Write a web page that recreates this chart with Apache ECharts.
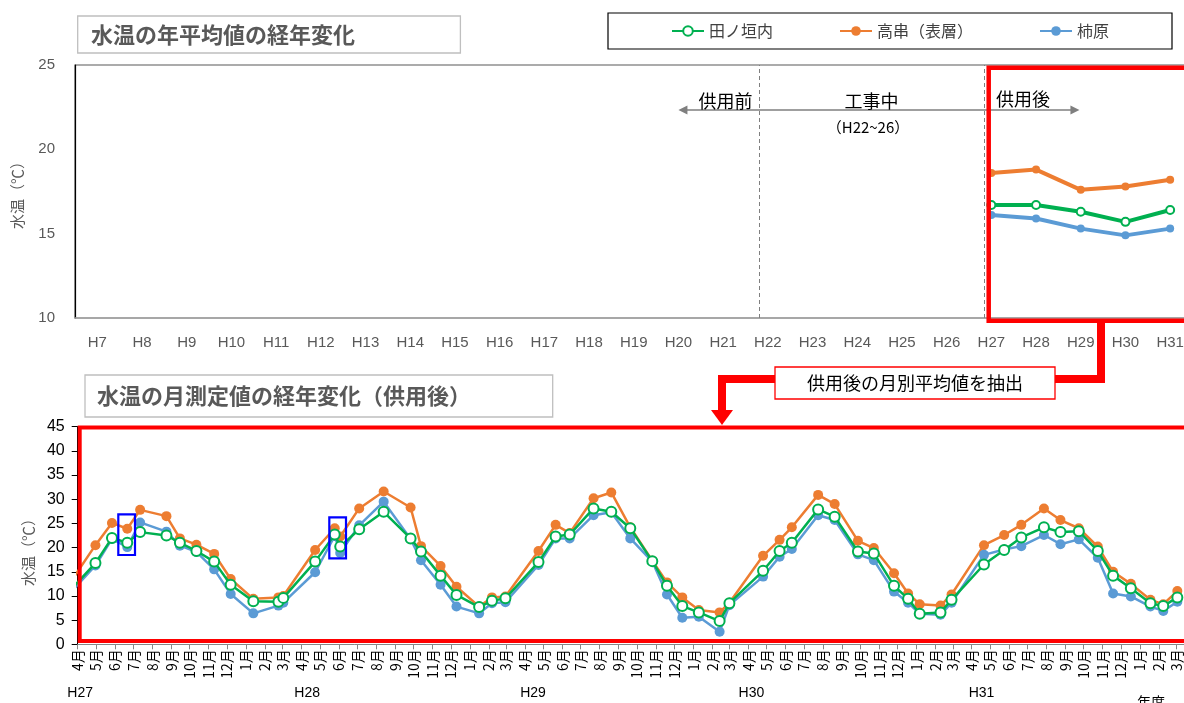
<!DOCTYPE html>
<html>
<head>
<meta charset="utf-8">
<title>水温の経年変化</title>
<script src="https://cdn.jsdelivr.net/npm/echarts@6/dist/echarts.min.js"></script>
<style>
  html, body { margin: 0; padding: 0; background: #fff; }
  #chart { width: 1184px; height: 703px; }
</style>
</head>
<body>
<div id="chart"></div>
<script>
// --- data ---
const seriesNames = ['田ノ垣内', '高串（表層）', '柿原'];
const seriesColors = ['#00B050', '#ED7D31', '#5B9BD5'];

// 年平均（上段）
const yearCats = ['H7', 'H8', 'H9', 'H10', 'H11', 'H12', 'H13', 'H14', 'H15', 'H16', 'H17', 'H18', 'H19',
  'H20', 'H21', 'H22', 'H23', 'H24', 'H25', 'H26', 'H27', 'H28', 'H29', 'H30', 'H31'];
const annualYears = ['H27', 'H28', 'H29', 'H30', 'H31'];
const annualTanokaito = [16.7, 16.7, 16.3, 15.7, 16.4];
const annualTakakushi = [18.6, 18.8, 17.6, 17.8, 18.2];
const annualKakihara = [16.1, 15.9, 15.3, 14.9, 15.3];

// 月測定値（下段）
const sampleDates = ['2015-03-05',
  '2015-04-30', '2015-05-27', '2015-06-21', '2015-07-12', '2015-08-24', '2015-09-15', '2015-10-12', '2015-11-10', '2015-12-07', '2016-01-13', '2016-02-23', '2016-03-02',
  '2016-04-23', '2016-05-25', '2016-06-03', '2016-07-04', '2016-08-13', '2016-09-26', '2016-10-13', '2016-11-14', '2016-12-10', '2017-01-16', '2017-02-06', '2017-02-28',
  '2017-04-23', '2017-05-21', '2017-06-13', '2017-07-22', '2017-08-20', '2017-09-20', '2017-10-26', '2017-11-19', '2017-12-14', '2018-01-10', '2018-02-13', '2018-03-01',
  '2018-04-25', '2018-05-22', '2018-06-11', '2018-07-24', '2018-08-20', '2018-09-27', '2018-10-23', '2018-11-25', '2018-12-18', '2019-01-06', '2019-02-09', '2019-02-27',
  '2019-04-21', '2019-05-24', '2019-06-21', '2019-07-28', '2019-08-24', '2019-09-23', '2019-10-24', '2019-11-18', '2019-12-17', '2020-01-18', '2020-02-08', '2020-03-02'];
const monthlyTakakushi = [10.0,
  20.5, 25.1, 23.9, 27.8, 26.5, 21.9, 20.6, 18.7, 13.5, 9.4, 9.7, 10.0,
  19.5, 24.0, 22.3, 28.1, 31.6, 28.3, 20.3, 16.2, 11.9, 7.8, 9.7, 9.9,
  19.3, 24.7, 23.0, 30.2, 31.4, 24.2, 17.3, 12.8, 9.7, 7.1, 6.6, 8.6,
  18.3, 21.6, 24.2, 30.9, 29.0, 21.4, 19.9, 14.7, 10.5, 8.3, 8.0, 10.3,
  20.5, 22.6, 24.7, 28.1, 25.7, 24.0, 20.2, 15.0, 12.5, 9.2, 8.3, 11.0];
const monthlyTanokaito = [9.1,
  16.8, 22.0, 21.0, 23.2, 22.5, 21.0, 19.3, 17.1, 12.3, 8.9, 8.8, 9.6,
  17.1, 22.7, 20.2, 23.8, 27.4, 21.9, 19.2, 14.2, 10.2, 7.7, 9.0, 9.5,
  17.0, 22.3, 22.7, 28.1, 27.4, 24.0, 17.2, 12.1, 7.9, 6.6, 4.8, 8.5,
  15.2, 19.3, 21.0, 27.9, 26.4, 19.2, 18.8, 12.1, 9.4, 6.3, 6.6, 9.2,
  16.5, 19.5, 22.1, 24.2, 23.2, 23.4, 19.3, 14.2, 11.6, 8.5, 7.9, 9.7];
const monthlyKakihara = [8.6,
  16.3, 21.8, 20.1, 25.2, 23.3, 20.4, 19.1, 15.5, 10.4, 6.4, 8.0, 8.6,
  14.9, 22.4, 18.9, 24.6, 29.5, 21.8, 17.4, 12.3, 7.8, 6.4, 8.5, 8.7,
  16.4, 21.9, 21.9, 26.7, 27.3, 21.9, 17.1, 10.3, 5.5, 5.7, 2.6, 8.1,
  14.0, 18.1, 19.7, 26.7, 25.7, 18.6, 17.4, 10.9, 8.6, 6.3, 6.1, 8.6,
  18.5, 19.6, 20.3, 22.6, 20.7, 21.7, 17.9, 10.5, 9.9, 7.8, 6.9, 8.8];

const monthLabels = ['4月', '5月', '6月', '7月', '8月', '9月', '10月', '11月', '12月', '1月', '2月', '3月'];
const yearLabels = ['H27', 'H28', 'H29', 'H30', 'H31', '年度'];
const yearLabelDates = ['2015-04-05', '2016-04-10', '2017-04-14', '2018-04-06', '2019-04-17', '2020-01-19'];

// --- helpers ---
const FONT = "'Liberation Sans', 'Noto Sans CJK JP', sans-serif";
const JP = "'Noto Sans CJK JP', sans-serif";
const toTime = (s) => {
  const p = s.split('-').map(Number);
  return new Date(p[0], p[1] - 1, p[2]).getTime();
};
const axisStart = new Date(2015, 3, 1).getTime();
const axisEnd = new Date(2020, 3, 1).getTime();
let monthTicks = [];
for (let i = 0; i < 60; i++) monthTicks.push(new Date(2015, 3 + i, 1).getTime());
const yearLabelTimes = yearLabelDates.map(toTime);

const annualPairs = (arr) => annualYears.map((y, i) => [yearCats.indexOf(y), arr[i]]);
const monthlyPairs = (arr) => sampleDates.map((d, i) => [toTime(d), arr[i]]);

// 注記位置（上段の値座標）
const dividerPre = 14.81;
const dividerPost = 19.84;
const arrowFrom = 13.1, arrowTo = 21.87, arrowLevel = 22.33;

const myChart = echarts.init(document.getElementById('chart'));

const annualSeries = (name, color, arr, empty, extra) => Object.assign({
  name: name,
  type: 'line',
  xAxisIndex: 0,
  yAxisIndex: 0,
  data: annualPairs(arr),
  symbol: empty ? 'emptyCircle' : 'circle',
  symbolSize: 8,
  lineStyle: { width: 4, color: color },
  itemStyle: { color: color, borderWidth: empty ? 1.5 : 0 },
  emphasis: { disabled: true },
  z: 3,
}, extra || {});

const monthlySeries = (name, color, arr, empty, z) => ({
  name: name,
  type: 'line',
  xAxisIndex: 1,
  yAxisIndex: 1,
  data: monthlyPairs(arr),
  clip: true,
  symbol: empty ? 'emptyCircle' : 'circle',
  symbolSize: 10,
  showAllSymbol: true,
  lineStyle: { width: 2.5, color: color },
  itemStyle: { color: color, borderWidth: empty ? 1.8 : 0 },
  emphasis: { disabled: true },
  z: z,
});

const option = {
  animation: false,
  backgroundColor: '#fff',
  textStyle: { fontFamily: FONT },
  legend: {
    data: seriesNames,
    left: 608,
    top: 13,
    itemGap: 66,
    itemWidth: 32,
    itemHeight: 12,
    padding: [10, 63],
    borderColor: '#000',
    borderWidth: 1.2,
    textStyle: { fontFamily: JP, fontSize: 16, color: '#404040' },
  },
  grid: [
    { left: 75, top: 65, right: -8.5, bottom: 385, outerBoundsMode: 'none', containLabel: false,
      show: true, borderColor: '#595959', borderWidth: 1.2 },
    { left: 77.7, top: 426.7, right: -11.7, bottom: 58.7, outerBoundsMode: 'none', containLabel: false },
  ],
  xAxis: [
    {
      type: 'value',
      gridIndex: 0,
      min: -0.5,
      max: yearCats.length - 0.5,
      axisLine: { onZero: false, lineStyle: { color: '#a6a6a6', width: 1.5 } },
      axisTick: { show: false },
      splitLine: { show: false },
      axisLabel: {
        customValues: yearCats.map((c, i) => i),
        formatter: (v) => yearCats[Math.round(v)],
        color: '#595959',
        fontSize: 15,
        margin: 17,
      },
    },
    {
      type: 'value',
      gridIndex: 1,
      min: axisStart,
      max: axisEnd,
      axisLine: { onZero: false, lineStyle: { color: '#868686', width: 1 } },
      axisTick: { customValues: monthTicks, length: 5, lineStyle: { color: '#868686' } },
      splitLine: { show: false },
      axisLabel: {
        customValues: monthTicks,
        rotate: 90,
        margin: 5,
        color: '#000',
        fontSize: 14,
        fontFamily: JP,
        formatter: (v) => monthLabels[(new Date(v).getMonth() + 9) % 12],
      },
    },
    {
      type: 'value',
      gridIndex: 1,
      min: axisStart,
      max: axisEnd,
      position: 'bottom',
      offset: 42,
      axisLine: { show: false, onZero: false },
      axisTick: { show: false },
      splitLine: { show: false },
      axisLabel: {
        customValues: yearLabelTimes,
        margin: 0,
        color: '#000',
        fontSize: 14,
        formatter: (v) => {
          const k = yearLabelTimes.indexOf(v);
          const t = yearLabels[k] || '';
          return t === '年度' ? '{lo|' + t + '}' : t;
        },
        rich: { lo: { fontFamily: JP, fontSize: 14, color: '#000', padding: [8, 0, 0, 0] } },
      },
    },
  ],
  yAxis: [
    {
      type: 'value',
      gridIndex: 0,
      min: 10,
      max: 25,
      interval: 5,
      axisLine: { show: true, onZero: false, lineStyle: { color: '#000', width: 1.2 } },
      axisTick: { show: false },
      splitLine: { show: false },
      axisLabel: { color: '#595959', fontSize: 15, margin: 20 },
      name: '水温（℃）',
      nameLocation: 'middle',
      nameGap: 50,
      nameTextStyle: { color: '#595959', fontSize: 15, fontFamily: JP },
    },
    {
      type: 'value',
      gridIndex: 1,
      min: 0,
      max: 45,
      interval: 5,
      axisLine: { show: true, onZero: false, lineStyle: { color: '#000', width: 1 } },
      axisTick: { show: true, length: 6, lineStyle: { color: '#000' } },
      splitLine: { show: false },
      axisLabel: { color: '#000', fontSize: 16, margin: 13 },
      name: '水温（℃）',
      nameLocation: 'middle',
      nameGap: 40,
      nameTextStyle: { color: '#595959', fontSize: 15, fontFamily: JP, padding: [0, 26, 0, 0] },
    },
  ],
  series: [
    annualSeries(seriesNames[1], seriesColors[1], annualTakakushi, false, {
      markLine: {
        silent: true,
        symbol: 'none',
        label: { show: false },
        lineStyle: { type: [4, 3], color: '#7f7f7f', width: 1 },
        data: [{ xAxis: dividerPre }, { xAxis: dividerPost }],
      },
    }),
    annualSeries(seriesNames[2], seriesColors[2], annualKakihara, false, {
      markLine: {
        silent: true,
        symbol: ['triangle', 'triangle'],
        symbolSize: [9, 9],
        label: { show: false },
        lineStyle: { type: 'solid', color: '#7f7f7f', width: 1.5 },
        data: [[{ coord: [arrowFrom, arrowLevel] }, { coord: [arrowTo, arrowLevel] }]],
      },
    }),
    annualSeries(seriesNames[0], seriesColors[0], annualTanokaito, true),
    monthlySeries(seriesNames[1], seriesColors[1], monthlyTakakushi, false, 2),
    monthlySeries(seriesNames[2], seriesColors[2], monthlyKakihara, false, 3),
    monthlySeries(seriesNames[0], seriesColors[0], monthlyTanokaito, true, 4),
  ],
  graphic: [
    // 上段タイトル
    { type: 'rect', z: 50, shape: { x: 77.7, y: 16, width: 382.7, height: 37 },
      style: { fill: '#fff', stroke: '#bfbfbf', lineWidth: 1.3 } },
    { type: 'text', z: 51, x: 91, y: 34.5,
      style: { text: '水温の年平均値の経年変化', font: 'bold 22px ' + JP, fill: '#595959', verticalAlign: 'middle' } },
    // 上段注記
    { type: 'text', z: 51, x: 725.5, y: 101,
      style: { text: '供用前', font: '18px ' + JP, fill: '#000', align: 'center', verticalAlign: 'middle' } },
    { type: 'text', z: 51, x: 871.5, y: 101,
      style: { text: '工事中', font: '18px ' + JP, fill: '#000', align: 'center', verticalAlign: 'middle' } },
    { type: 'text', z: 51, x: 868, y: 127.5,
      style: { text: '（H22~26）', font: '15px ' + JP, fill: '#000', align: 'center', verticalAlign: 'middle' } },
    { type: 'text', z: 51, x: 1023, y: 99,
      style: { text: '供用後', font: '18px ' + JP, fill: '#000', align: 'center', verticalAlign: 'middle' } },
    // 赤枠
    { type: 'rect', z: 60, shape: { x: 988.7, y: 67.7, width: 260, height: 253 },
      style: { fill: null, stroke: '#ff0000', lineWidth: 4.5 } },
    { type: 'rect', z: 60, shape: { x: 79.7, y: 427.5, width: 1200, height: 213.5 },
      style: { fill: null, stroke: '#ff0000', lineWidth: 4 } },
    { type: 'polyline', z: 60, shape: { points: [[1101, 321], [1101, 379], [1055, 379]] },
      style: { stroke: '#ff0000', lineWidth: 8, fill: null } },
    { type: 'polyline', z: 60, shape: { points: [[775, 379], [722, 379], [722, 412]] },
      style: { stroke: '#ff0000', lineWidth: 8, fill: null } },
    { type: 'polygon', z: 60, shape: { points: [[711, 410], [733, 410], [722, 425]] },
      style: { fill: '#ff0000' } },
    { type: 'rect', z: 61, shape: { x: 775, y: 367, width: 280, height: 32 },
      style: { fill: '#fff', stroke: '#ff0000', lineWidth: 1.3 } },
    { type: 'text', z: 62, x: 915, y: 383.5,
      style: { text: '供用後の月別平均値を抽出', font: '18px ' + JP, fill: '#000', align: 'center', verticalAlign: 'middle' } },
    // 下段タイトル
    { type: 'rect', z: 50, shape: { x: 85, y: 375, width: 467.7, height: 42 },
      style: { fill: '#fff', stroke: '#bfbfbf', lineWidth: 1.3 } },
    { type: 'text', z: 51, x: 97, y: 396,
      style: { text: '水温の月測定値の経年変化（供用後）', font: 'bold 22px ' + JP, fill: '#595959', verticalAlign: 'middle' } },
    // 青枠
    { type: 'rect', z: 60, shape: { x: 118.3, y: 514.3, width: 16.7, height: 40.7 },
      style: { fill: null, stroke: '#0000ff', lineWidth: 2.2 } },
    { type: 'rect', z: 60, shape: { x: 329.3, y: 517.3, width: 16.7, height: 41 },
      style: { fill: null, stroke: '#0000ff', lineWidth: 2.2 } },
  ],
};

myChart.setOption(option);
</script>
</body>
</html>
